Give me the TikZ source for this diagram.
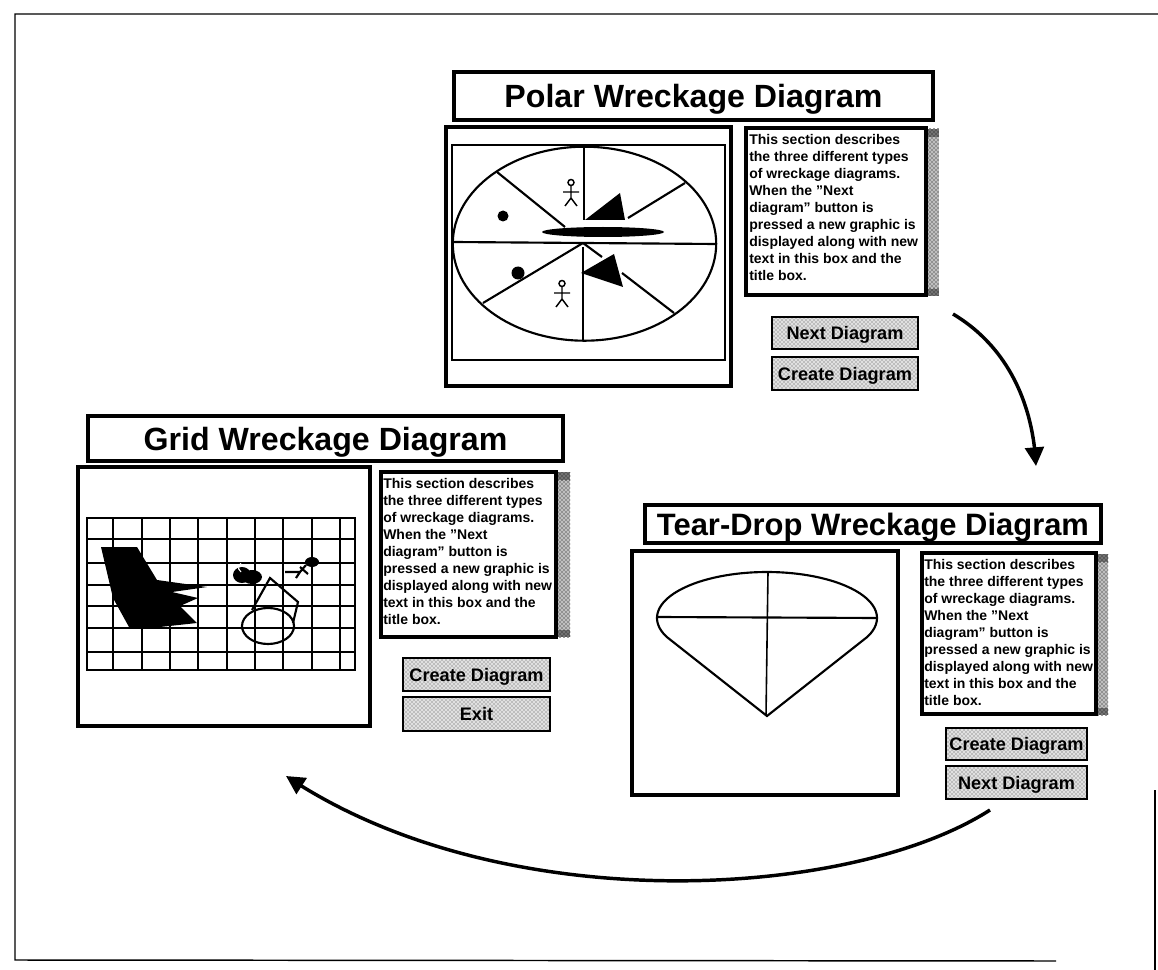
\documentclass[tikz,border=0pt]{standalone}
\usepackage{fontspec}
\setmainfont{Liberation Sans}
\usetikzlibrary{arrows.meta,patterns,bending}
\newcommand{\bx}[7]{%
  \pgfmathsetmacro\bxw{abs(#4-#2)*0.75}%
  \pgfmathsetmacro\bxh{abs(#5-#3)*0.75}%
  \node[#6,minimum width=\bxw pt,minimum height=\bxh pt] (#1) at ({(#2+#4)/2},{(#3+#5)/2}) {#7};}
\newcommand{\para}[3]{%
  \node[bodytext] (#1) at (#2,#3) {This section describes\\the three different types\\of wreckage diagrams.\\When the "Next\\diagram" button is\\pressed a new graphic is\\displayed along with new\\text in this box and the\\title box.};}
\newcommand{\scrollbar}[5]{%
  \bx{#1}{#2}{#3}{#4}{#5}{scrollbox}{}
  \bx{#1u}{#2}{#3}{#4}{#3+8}{scrollcap}{}
  \bx{#1d}{#2}{#5-7}{#4}{#5}{scrollcap}{}}
\newcommand{\stick}[3]{%
  \begin{scope}[shift={(#2,#3)},thin figure]
    \draw (0,-3.5) circle[radius=3];
    \draw (0,0) -- (0,12) (-8,6) -- (8,6) (-6,20) -- (0,12) -- (6,20);
  \end{scope}}
\tikzset{
  x=0.75pt,y=-0.75pt,
  thin figure/.style={line width=1.1pt},
  titlebox/.style={draw,line width=3pt,fill=white,inner sep=0pt,text height=17.4pt,text depth=0pt,font=\bfseries\fontsize{24.1}{28}\selectfont},
  framebox/.style={draw,line width=3.6pt,fill=white,inner sep=0pt},
  panelbox/.style={draw,line width=2.8pt,fill=white,inner sep=0pt},
  innerbox/.style={draw,line width=0.8pt,inner sep=0pt},
  scrollbox/.style={inner sep=0pt,preaction={fill=black!25},pattern=crosshatch dots,pattern color=black},
  scrollcap/.style={inner sep=0pt,preaction={fill=black!55},pattern=crosshatch dots,pattern color=black},
  button/.style={draw,line width=1.1pt,inner sep=0pt,preaction={fill=black!12},pattern=crosshatch dots,pattern color=black!70,text height=9.8pt,text depth=0pt,font=\bfseries\fontsize{13.6}{15}\selectfont},
  bodytext/.style={anchor=north west,inner sep=0pt,align=left,font=\bfseries\fontsize{10.5}{12.8}\selectfont},
  drawn/.style={line width=1.6pt},
  gridline/.style={line width=1pt},
  solidshape/.style={fill=black,draw=none},
  bigarrow/.style={line width=2.6pt,-{Triangle[length=14pt,width=14pt,flex]}},
}
\begin{document}
\begin{tikzpicture}
\useasboundingbox (0,0) rectangle (1158,970);
\fill[white] (0,0) rectangle (1158,970);
% page border
\coordinate (pa) at (15,14); \coordinate (pb) at (1158,14);
\coordinate (pc) at (1155,790); \coordinate (pd) at (1155,970);
\coordinate (pe) at (15,960); \coordinate (pf) at (1056,961);
\draw[line width=1.1pt] (pb) -- (pa) -- (pe) -- (pf);
\draw[line width=1.1pt] (pc) -- (pd);

% ---------- Polar
\bx{ptitle}{454}{72}{933}{120}{titlebox}{Polar Wreckage Diagram}
\bx{pframe}{446}{127}{731}{386}{framebox}{}
\bx{pinner}{452}{145}{725}{360}{innerbox}{}
\coordinate (pcentre) at (584.5,243.7);
\draw[drawn] (pcentre) ellipse[x radius=131.7,y radius=97];
\draw[drawn] (454,242) -- (716,244);
\draw[drawn] (584,148) -- (584,220) (583,247) -- (583,340);
\draw[drawn] (497,172) -- (565,227) (685,183) -- (628,218);
\draw[drawn] (583,243) -- (483,303) (583,243) -- (602,257) (622,273) -- (674,313);
\fill[solidshape] (585,220) -- (620,193) -- (625,220) -- cycle;
\fill[solidshape] (581,273) -- (614,254) -- (623,287) -- cycle;
\fill[solidshape] (603,232) ellipse[x radius=61,y radius=5];
\fill[solidshape] (503,216) circle[radius=5.5] (518,273) circle[radius=6.5];
\stick{ps1}{571}{186}
\stick{ps2}{562}{287}
\bx{ptext}{746}{128}{926}{295}{panelbox}{}
\para{pbody}{749}{134}
\scrollbar{pscroll}{928}{129}{939}{296}
\bx{pnext}{772}{317}{918}{349}{button}{Next Diagram}
\bx{pcreate}{772}{357}{918}{390}{button}{Create Diagram}

% ---------- Grid
\bx{gtitle}{88}{416}{563}{461}{titlebox}{Grid Wreckage Diagram}
\bx{gframe}{78}{467}{370}{726}{framebox}{}
\foreach \gx in {87,113,142,170,198,227,255,283,312,340,355} \draw[gridline] (\gx,518) -- (\gx,670);
\foreach \gy in {518,539,563,585,606,628,652,670} \draw[gridline] (86,\gy) -- (356,\gy);
\fill[solidshape] (101,547) -- (137,547) -- (157,580) -- (207,587) -- (172,592) -- (198,598) -- (180,606) -- (197,623) -- (160,627) -- (129,627) -- (113,598) -- cycle;
\fill[solidshape] (242,575) ellipse[x radius=9,y radius=8];
\fill[solidshape] (252,577) ellipse[x radius=10,y radius=7];
\draw[white,line width=0.8pt] (241,572) arc[start angle=120,end angle=240,radius=5];
\fill[solidshape] (312,562) ellipse[x radius=7,y radius=5];
\draw[drawn] (285,572) -- (300,572) -- (306,565) (300,572) -- (296,578) (300,567) -- (308,574);
\draw[drawn] (268,626) ellipse[x radius=26,y radius=18];
\draw[drawn] (252,610) -- (270,578) -- (298,602) -- (293,623);
\bx{gtext}{381}{472}{556}{637}{panelbox}{}
\para{gbody}{383}{478}
\scrollbar{gscroll}{558}{472}{570}{637}
\bx{gcreate}{403}{658}{550}{691}{button}{Create Diagram}
\bx{gexit}{403}{697}{550}{731}{button}{Exit}

% ---------- Tear-drop
\bx{ttitle}{645}{505}{1101}{543}{titlebox,font=\bfseries\fontsize{23.2}{28}\selectfont,text height=16.6pt}{Tear-Drop Wreckage Diagram}
\bx{tframe}{632}{551}{898}{795}{framebox}{}
\draw[drawn] (767,716) -- plot[domain=155.6:384.4,samples=90] ({767+110*cos(\x)},{618+46*sin(\x)}) -- cycle;
\draw[drawn] (657,617) -- (877,618);
\draw[line width=1.2pt] (768,572) -- (766,716);
\bx{ttext}{922}{553}{1096}{714}{panelbox}{}
\para{tbody}{924}{559}
\scrollbar{tscroll}{1098}{554}{1108}{715}
\bx{tcreate}{946}{728}{1087}{760}{button}{Create Diagram}
\bx{tnext}{946}{766}{1087}{799}{button}{Next Diagram}

% ---------- Arrows
\coordinate (a1s) at (953,314); \coordinate (a1e) at (1036,466);
\coordinate (a2s) at (990,810); \coordinate (a2e) at (286,776);
\draw[bigarrow] (a1s) .. controls (1005,345) and (1033,400) .. (a1e);
\draw[bigarrow] (a2s) .. controls (850,900) and (500,920) .. (a2e);
\end{tikzpicture}
\end{document}
